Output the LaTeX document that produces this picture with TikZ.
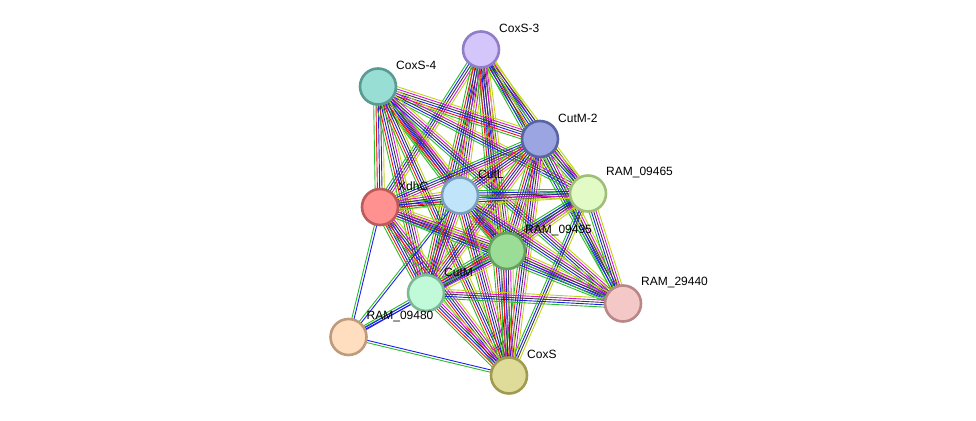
\documentclass[tikz,border=0pt]{standalone}
\usepackage{fontspec}
\setmainfont{Liberation Sans}
\usetikzlibrary{calc,backgrounds}
\definecolor{cg}{RGB}{40,190,40}
\definecolor{cr}{RGB}{240,20,20}
\definecolor{cb}{RGB}{30,30,235}
\definecolor{ck}{RGB}{60,60,60}
\definecolor{cm}{RGB}{215,20,215}
\definecolor{cy}{RGB}{190,212,20}
\newcommand\bund[3]{%
  \gdef\nn{0}%
  \foreach \c in {#3}{\xdef\nn{\the\numexpr\nn+1\relax}}%
  \foreach \c [count=\i] in {#3}{%
    \pgfmathsetmacro\off{(\i-1-(\nn-1)/2)*2.3}%
    \draw[edgeline,draw=\c] ($(#1.center)!\off pt!90:(#2.center)$) -- ($(#2.center)!\off pt!-90:(#1.center)$);
  }}
\tikzset{
  prot/.style={circle,minimum size=36pt,inner sep=0pt,line width=2.6pt},
  edgeline/.style={line width=0.9pt},
  lab/.style={anchor=west,inner sep=0pt,font=\fontsize{12}{14}\selectfont}
}
\begin{document}
\begin{tikzpicture}[x=1pt,y=-1pt]
\useasboundingbox (0,0) rectangle (976,420);
\node[prot,fill={rgb,255:red,212;green,197;blue,250},draw={rgb,255:red,145;green,125;blue,200}] (A) at (481,49.5) {};
\node[prot,fill={rgb,255:red,152;green,222;blue,212},draw={rgb,255:red,90;green,155;blue,145}] (B) at (378,86.5) {};
\node[prot,fill={rgb,255:red,155;green,165;blue,225},draw={rgb,255:red,90;green,100;blue,165}] (C) at (540,139) {};
\node[prot,fill={rgb,255:red,226;green,250;blue,198},draw={rgb,255:red,160;green,190;blue,122}] (D) at (588,193.5) {};
\node[prot,fill={rgb,255:red,255;green,145;blue,145},draw={rgb,255:red,190;green,90;blue,90}] (E) at (380,207) {};
\node[prot,fill={rgb,255:red,192;green,228;blue,250},draw={rgb,255:red,120;green,160;blue,190}] (F) at (460,195.5) {};
\node[prot,fill={rgb,255:red,155;green,220;blue,150},draw={rgb,255:red,100;green,160;blue,95}] (G) at (507,251) {};
\node[prot,fill={rgb,255:red,192;green,250;blue,216},draw={rgb,255:red,125;green,185;blue,150}] (H) at (426,293) {};
\node[prot,fill={rgb,255:red,245;green,200;blue,200},draw={rgb,255:red,185;green,135;blue,135}] (I) at (623,303.5) {};
\node[prot,fill={rgb,255:red,255;green,222;blue,192},draw={rgb,255:red,190;green,155;blue,125}] (J) at (348.5,337) {};
\node[prot,fill={rgb,255:red,222;green,220;blue,152},draw={rgb,255:red,160;green,155;blue,80}] (K) at (509,375.5) {};
\begin{pgfonlayer}{background}
\bund{A}{C}{cg,cr,cb,ck,cm,cy}
\bund{A}{D}{cg,cb,ck,cy}
\bund{A}{E}{cg,cb,ck,cm,cy}
\bund{A}{F}{cg,cr,cb,ck,cm,cy}
\bund{A}{G}{cg,cr,cb,ck,cm,cy}
\bund{A}{H}{cg,cr,cb,ck,cm,cy}
\bund{A}{K}{cg,cr,cb,ck,cm,cy}
\bund{A}{I}{cg,cb,ck,cy}
\bund{B}{C}{cg,cr,cb,ck,cm,cy}
\bund{B}{D}{cg,cb,ck,cm,cy}
\bund{B}{E}{cg,cr,cb,ck,cy}
\bund{B}{F}{cg,cr,cb,ck,cm,cy}
\bund{B}{G}{cg,cr,cb,ck,cm,cy}
\bund{B}{H}{cg,cr,cb,ck,cm,cy}
\bund{B}{I}{cg,cb,ck,cm,cy}
\bund{B}{K}{cg,cr,cb,ck,cy}
\bund{C}{D}{cg,cb,ck,cm,cy}
\bund{C}{E}{cg,cb,ck,cm,cy}
\bund{C}{F}{cg,cr,cb,ck,cm,cy}
\bund{C}{G}{cg,cr,cb,ck,cm,cy}
\bund{C}{H}{cg,cr,cb,ck,cm,cy}
\bund{C}{I}{cg,cb,ck,cm,cy}
\bund{C}{K}{cg,cr,cb,ck,cm,cy}
\bund{D}{E}{cg,cb,ck,cy}
\bund{D}{F}{cg,cb,ck,cm,cy}
\bund{D}{G}{cg,cb,ck,cm,cy}
\bund{D}{H}{cg,cb,ck,cm,cy}
\bund{D}{I}{cg,cb,ck,cm,cy}
\bund{D}{K}{cg,cb,ck,cy}
\bund{E}{F}{cg,cr,cb,ck,cm,cy}
\bund{E}{G}{cg,cr,cb,ck,cm,cy}
\bund{E}{H}{cg,cr,cb,ck,cm,cy}
\bund{E}{I}{cg,cb,ck,cm,cy}
\bund{E}{J}{cg,cb}
\bund{E}{K}{cg,cr,cb,ck,cm,cy}
\bund{F}{G}{cg,cr,cb,ck,cm,cy}
\bund{F}{H}{cg,cr,cb,ck,cm,cy}
\bund{F}{I}{cg,cb,ck,cm,cy}
\bund{F}{J}{cg,cb}
\bund{F}{K}{cg,cr,cb,ck,cm,cy}
\bund{G}{H}{cg,cr,cb,ck,cm,cy}
\bund{G}{I}{cg,cb,ck,cm,cy}
\bund{G}{J}{cg,cb}
\bund{G}{K}{cg,cr,cb,ck,cm,cy}
\bund{H}{I}{cg,cb,ck,cm,cy}
\bund{H}{J}{cg,cb,cb}
\bund{H}{K}{cg,cr,cb,ck,cm,cy}
\bund{J}{K}{cg,cb}
\end{pgfonlayer}
\node[lab] (lA) at ($(A)+(18,-21)$) {CoxS-3};
\node[lab] (lB) at ($(B)+(18,-21)$) {CoxS-4};
\node[lab] (lC) at ($(C)+(18,-21)$) {CutM-2};
\node[lab] (lD) at ($(D)+(18,-21)$) {RAM\_09465};
\node[lab] (lE) at ($(E)+(18,-21)$) {XdhC};
\node[lab] (lF) at ($(F)+(18,-21)$) {CutL};
\node[lab] (lG) at ($(G)+(18,-21)$) {RAM\_09495};
\node[lab] (lH) at ($(H)+(18,-21)$) {CutM};
\node[lab] (lI) at ($(I)+(18,-21)$) {RAM\_29440};
\node[lab] (lJ) at ($(J)+(18,-21)$) {RAM\_09480};
\node[lab] (lK) at ($(K)+(18,-21)$) {CoxS};
\end{tikzpicture}
\end{document}
